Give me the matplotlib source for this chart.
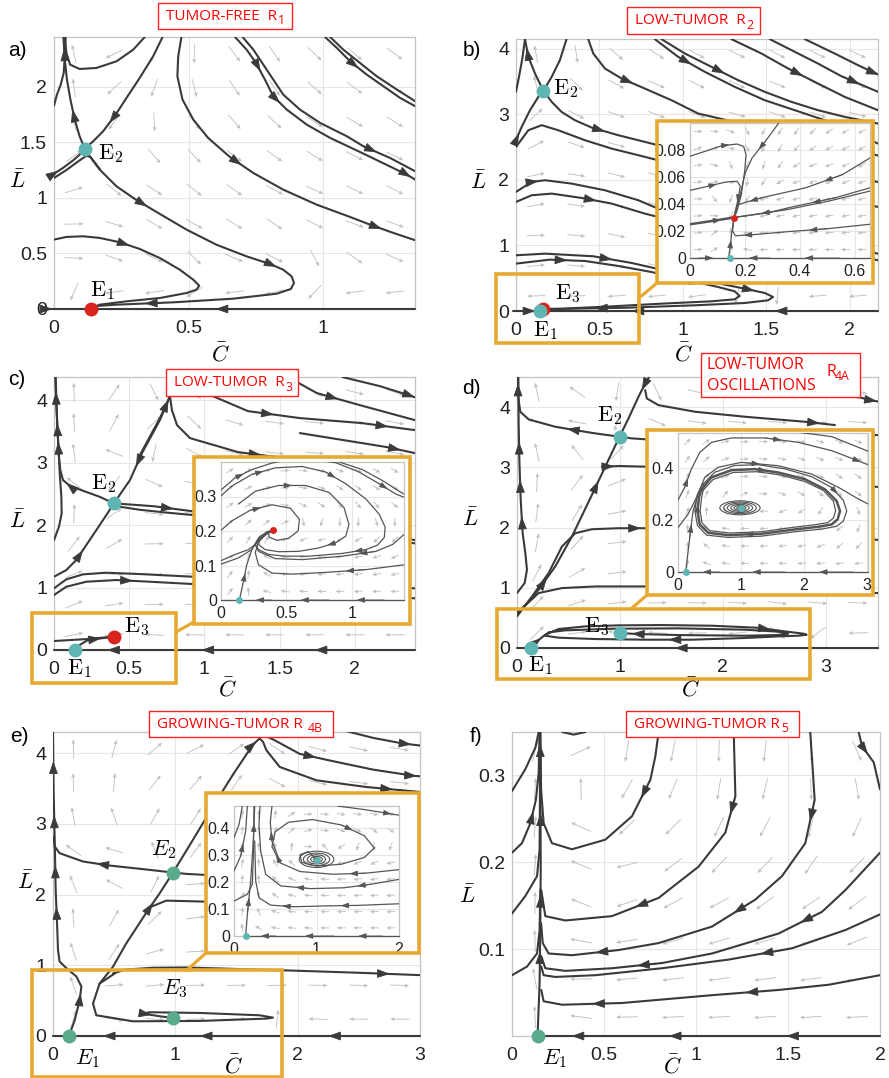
import numpy as np
import matplotlib.pyplot as plt
from matplotlib.patches import Rectangle, FancyArrowPatch, Ellipse
from matplotlib.lines import Line2D

plt.rcParams['font.family'] = ['Liberation Sans', 'DejaVu Sans']

# ---------------- panel a : tumor-free R1 ----------------
a_E1 = (0.139, 0.0)
a_E2 = (0.114, 1.444)
a_up = [(0.114, 1.444), (0.095, 1.556), (0.077, 1.706), (0.061, 1.886), (0.048, 2.066), (0.040, 2.246), (0.035, 2.45)]
a_down = [(0.114, 1.444), (0.133, 1.375), (0.170, 1.255), (0.232, 1.105), (0.300, 0.991), (0.393, 0.856), (0.492, 0.715),
          (0.603, 0.579), (0.715, 0.474), (0.802, 0.405), (0.851, 0.354), (0.882, 0.294), (0.891, 0.234), (0.879, 0.180),
          (0.827, 0.138), (0.665, 0.093), (0.442, 0.060), (0.232, 0.039), (0.157, 0.027), (0.139, 0.0)]
a_stab1 = [(0.403, 2.45), (0.368, 2.276), (0.318, 2.081), (0.269, 1.901), (0.229, 1.751), (0.182, 1.60), (0.145, 1.51), (0.114, 1.444)]
a_stab2 = [(0.0, 1.219), (0.033, 1.270), (0.071, 1.339), (0.102, 1.405), (0.114, 1.444)]
a_stab3 = [(0.0, 1.18), (0.045, 1.25), (0.09, 1.33), (0.12, 1.38), (0.135, 1.37), (0.17, 1.26)]
a_topleft = [(0.337, 2.45), (0.294, 2.336), (0.232, 2.231), (0.157, 2.171), (0.095, 2.162), (0.060, 2.201), (0.046, 2.306), (0.040, 2.45)]
a_left2 = [(0.0, 1.832), (0.011, 1.931), (0.025, 2.021), (0.036, 2.126), (0.041, 2.306), (0.043, 2.45)]
a_mid = [(0.473, 2.45), (0.461, 2.276), (0.458, 2.096), (0.477, 1.886), (0.517, 1.706), (0.572, 1.541), (0.653, 1.369),
         (0.740, 1.225), (0.851, 1.075), (0.975, 0.940), (1.099, 0.829), (1.173, 0.760), (1.260, 0.685), (1.341, 0.619)]
a_r1 = [(0.672, 2.45), (0.715, 2.336), (0.750, 2.216), (0.783, 2.066), (0.814, 1.916), (0.864, 1.796), (0.938, 1.661),
        (1.025, 1.541), (1.149, 1.399), (1.310, 1.210), (1.341, 1.165)]
a_r2 = [(0.700, 2.45), (0.740, 2.336), (0.777, 2.201), (0.814, 2.066), (0.851, 1.931), (0.913, 1.796), (0.988, 1.676),
        (1.087, 1.556), (1.149, 1.465), (1.248, 1.360), (1.341, 1.240)]
a_tr1 = [(1.006, 2.45), (1.050, 2.351), (1.099, 2.231), (1.161, 2.111), (1.223, 2.006), (1.285, 1.901), (1.341, 1.826)]
a_tr2 = [(1.025, 2.45), (1.074, 2.336), (1.136, 2.216), (1.198, 2.096), (1.273, 1.976), (1.341, 1.871)]
a_loop = [(0.0, 0.625), (0.046, 0.649), (0.108, 0.655), (0.170, 0.640), (0.244, 0.601), (0.318, 0.541), (0.393, 0.459),
          (0.467, 0.354), (0.517, 0.264), (0.539, 0.210), (0.529, 0.174), (0.492, 0.144), (0.393, 0.099), (0.269, 0.069),
          (0.170, 0.039), (0.139, 0.006)]
a_ax_r = [(1.34, 0.0), (1.06, 0.0), (0.139, 0.0)]
a_ax_l = [(-0.02, 0.0), (0.01, 0.0), (0.139, 0.0)]

# ---------------- panel b : low-tumor R2 ----------------
b_E1 = (0.144, 0.0)
b_E2 = (0.164, 3.359)
b_E3 = (0.16, 0.03)
b_up = [(0.164, 3.359), (0.114, 3.623), (0.074, 3.878), (0.054, 4.148)]
b_left_top = [(0.0, 3.344), (0.018, 3.573), (0.038, 3.852), (0.054, 4.148)]
b_stab_top = [(0.303, 4.148), (0.263, 3.827), (0.214, 3.573), (0.164, 3.359)]
b_stab_left = [(0.0, 2.606), (0.034, 2.809), (0.084, 3.064), (0.134, 3.267), (0.164, 3.359)]
b_down = [(0.164, 3.359), (0.214, 3.191), (0.273, 3.038), (0.353, 2.911), (0.453, 2.799), (0.613, 2.682), (0.812, 2.555),
          (0.972, 2.453), (2.12, 1.99), (2.19, 1.96)]
b_t1 = [(0.433, 4.148), (0.463, 3.929), (0.533, 3.700), (0.633, 3.547), (0.772, 3.394), (0.932, 3.216), (1.092, 3.013), (2.17, 2.372)]
b_t2 = [(0.832, 4.148), (0.972, 3.878), (1.132, 3.649), (1.311, 3.420), (1.491, 3.216), (1.671, 3.064), (1.850, 2.911), (2.17, 2.555)]
b_t3 = [(0.872, 4.148), (1.012, 3.929), (1.172, 3.725), (1.331, 3.522), (1.491, 3.344), (1.651, 3.191), (1.810, 3.064),
        (1.970, 2.962), (2.17, 2.860)]
b_t4 = [(1.291, 4.148), (1.471, 3.929), (1.631, 3.700), (1.810, 3.471), (1.970, 3.267), (2.17, 3.064)]
b_t5 = [(1.521, 4.148), (1.691, 3.929), (1.810, 3.776), (1.950, 3.583), (2.17, 3.344)]
b_t6 = [(1.731, 4.148), (1.910, 3.929), (2.050, 3.751), (2.15, 3.63), (2.20, 3.58)]
b_l1 = [(0.0, 2.504), (0.074, 2.758), (0.154, 2.835), (0.253, 2.758), (0.413, 2.606), (0.573, 2.478), (0.733, 2.377),
        (0.852, 2.300), (2.17, 1.588)]
b_l2 = [(0.0, 1.817), (0.094, 1.969), (0.174, 1.995), (0.333, 1.944), (0.533, 1.842), (0.733, 1.690), (0.852, 1.562), (2.17, 0.875)]
b_l3 = [(0.0, 1.664), (0.094, 1.766), (0.214, 1.791), (0.393, 1.725), (0.573, 1.639), (0.772, 1.486), (0.852, 1.435), (2.17, 0.774)]
b_l4 = [(0.0, 0.850), (0.174, 0.875), (0.463, 0.835), (0.693, 0.733), (0.932, 0.595), (1.172, 0.443), (1.371, 0.341),
        (1.491, 0.275), (1.541, 0.214), (1.511, 0.163), (1.371, 0.122), (1.072, 0.087), (0.673, 0.051), (0.273, 0.032), (0.16, 0.03)]
b_l5 = [(0.0, 0.723), (0.204, 0.784), (0.413, 0.763), (0.613, 0.687), (0.812, 0.595), (1.012, 0.478), (1.212, 0.366),
        (1.311, 0.300), (1.341, 0.229), (1.311, 0.178), (1.172, 0.148), (0.872, 0.112), (0.573, 0.071), (0.273, 0.035), (0.16, 0.03)]
b_ax_r = [(2.17, 0.0), (1.86, 0.0), (1.24, 0.0), (0.144, 0.0)]
b_ax_l = [(-0.02, 0.0), (0.09, 0.0), (0.144, 0.0)]

# inset b
bi_1 = [(0.0, 0.0754), (0.055, 0.0790), (0.116, 0.0832), (0.171, 0.0844), (0.195, 0.0827), (0.204, 0.0766),
        (0.199, 0.0643), (0.187, 0.0471), (0.171, 0.0348), (0.160, 0.030)]
bi_2 = [(0.0, 0.0501), (0.067, 0.0532), (0.128, 0.0562), (0.171, 0.0569), (0.183, 0.0533), (0.177, 0.0459),
        (0.167, 0.0361), (0.160, 0.030)]
bi_3 = [(0.323, 0.1), (0.274, 0.0864), (0.226, 0.0741), (0.201, 0.0631), (0.183, 0.0471), (0.165, 0.0324), (0.160, 0.030)]
bi_4 = [(0.140, 0.0), (0.146, 0.0079), (0.152, 0.0189), (0.160, 0.030)]
bi_5 = [(0.0, 0.0250), (0.067, 0.0270), (0.160, 0.030)]
bi_6 = [(0.655, 0.0741), (0.555, 0.0618), (0.421, 0.0520), (0.262, 0.0447), (0.171, 0.0393), (0.165, 0.0348), (0.160, 0.030)]
bi_7 = [(0.655, 0.0520), (0.530, 0.0447), (0.360, 0.0373), (0.287, 0.0336), (0.160, 0.030)]
bi_8 = [(0.655, 0.0496), (0.506, 0.0422), (0.360, 0.0361), (0.160, 0.030)]
bi_9 = [(0.655, 0.0250), (0.506, 0.0218), (0.360, 0.0196), (0.226, 0.0172), (0.165, 0.0165), (0.155, 0.020), (0.160, 0.030)]
bi_ax_r = [(0.655, 0.0), (0.545, 0.0), (0.29, 0.0), (0.14, 0.0)]
bi_ax_l = [(0.0, 0.0), (0.03, 0.0), (0.14, 0.0)]

# ---------------- panel c : low-tumor R3 ----------------
c_E1 = (0.137, 0.0)
c_E2 = (0.399, 2.347)
c_E3 = (0.399, 0.213)
c_v1 = [(0.0, 1.76), (0.033, 1.973), (0.051, 2.187), (0.049, 2.453), (0.038, 2.827), (0.027, 3.36), (0.016, 3.893), (0.009, 4.37)]
c_u1 = [(0.399, 2.347), (0.303, 2.453), (0.193, 2.549), (0.104, 2.629), (0.060, 2.72), (0.042, 2.88), (0.033, 3.093),
        (0.022, 3.573), (0.016, 4.0), (0.011, 4.37)]
c_s2 = [(0.784, 4.37), (0.771, 4.064), (0.704, 3.68), (0.585, 3.152), (0.505, 2.72), (0.399, 2.352)]
c_cusp = [(0.571, 3.12), (0.704, 3.712), (0.751, 3.952), (0.771, 4.064), (0.784, 3.84), (0.818, 3.6), (0.904, 3.392),
          (1.223, 3.168), (1.535, 3.072), (1.834, 3.04)]
c_t1 = [(1.920, 4.368), (2.166, 4.224), (2.37, 4.07), (2.43, 4.02)]
c_t2 = [(1.568, 4.352), (1.748, 4.112), (2.033, 3.92), (2.399, 3.68)]
c_t3 = [(1.056, 4.064), (1.289, 3.824), (1.635, 3.712), (2.047, 3.632), (2.399, 3.52)]
c_t5 = [(1.635, 3.472), (2.213, 3.248), (2.399, 3.152)]
c_u2 = [(0.399, 2.347), (0.5, 2.33), (0.669, 2.30), (0.923, 2.22), (1.411, 2.08), (2.4, 1.76)]
c_u2b = [(0.42, 2.30), (0.569, 2.245), (0.746, 2.20), (0.923, 2.16), (2.4, 1.707)]
c_s1 = [(0.0, 1.173), (0.082, 1.28), (0.148, 1.44), (0.237, 1.76), (0.326, 2.08), (0.399, 2.347)]
c_l1 = [(0.0, 0.987), (0.082, 1.131), (0.193, 1.211), (0.348, 1.237), (0.569, 1.216), (0.923, 1.173), (2.4, 0.987)]
c_l2 = [(0.0, 0.88), (0.082, 1.013), (0.215, 1.093), (0.414, 1.12), (0.636, 1.093), (0.923, 1.056), (2.4, 0.827)]
c_e1 = [(0.0, 0.144), (0.193, 0.171), (0.399, 0.213)]
c_e2 = [(0.137, 0.0), (0.170, 0.08), (0.226, 0.16), (0.399, 0.213)]
c_ax_r = [(2.4, 0.0), (2.075, 0.0), (1.389, 0.0), (0.569, 0.0), (0.137, 0.0)]
c_ax_l = [(0.0, 0.0), (0.137, 0.0)]

# inset c
ci_1 = [(0.141, 0.0), (0.172, 0.054), (0.197, 0.102), (0.236, 0.146), (0.287, 0.180), (0.351, 0.198), (0.397, 0.202)]
ci_2 = [(0.0, 0.202), (0.082, 0.229), (0.223, 0.260), (0.390, 0.276), (0.531, 0.266), (0.600, 0.234), (0.590, 0.2),
        (0.518, 0.179), (0.428, 0.173), (0.369, 0.182), (0.364, 0.195), (0.397, 0.202)]
ci_a = [(0.0, 0.302), (0.082, 0.33), (0.236, 0.364), (0.415, 0.383), (0.621, 0.387), (0.8, 0.371), (0.954, 0.337),
        (1.108, 0.293), (1.21, 0.249), (1.256, 0.211), (1.249, 0.181), (1.197, 0.159), (1.108, 0.146), (0.928, 0.135),
        (0.672, 0.127), (0.492, 0.127), (0.364, 0.132), (0.287, 0.146), (0.262, 0.161), (0.3, 0.180), (0.351, 0.195), (0.397, 0.202)]
ci_4 = [(0.697, 0.407), (0.877, 0.398), (1.056, 0.371), (1.21, 0.337), (1.338, 0.307), (1.4, 0.298)]
ci_5 = [(0.736, 0.407), (0.903, 0.4), (1.082, 0.378), (1.236, 0.346), (1.364, 0.315), (1.4, 0.307)]
ci_6 = [(0.0, 0.319), (0.108, 0.354), (0.236, 0.378), (0.39, 0.397), (0.492, 0.405)]
ci_7 = [(1.4, 0.19), (1.313, 0.161), (1.185, 0.141), (0.928, 0.127), (0.621, 0.117), (0.415, 0.120), (0.287, 0.141),
        (0.262, 0.161), (0.313, 0.185), (0.397, 0.202)]
ci_8 = [(0.133, 0.278), (0.262, 0.315), (0.441, 0.332), (0.646, 0.332), (0.826, 0.312), (0.941, 0.268), (0.979, 0.219),
        (0.954, 0.185), (0.877, 0.166), (0.749, 0.151), (0.595, 0.141), (0.441, 0.14), (0.338, 0.146), (0.287, 0.161),
        (0.3, 0.18), (0.351, 0.195), (0.397, 0.202)]
ci_9 = [(1.4, 0.102), (1.108, 0.088), (0.8, 0.08), (0.544, 0.075), (0.39, 0.078), (0.287, 0.102), (0.262, 0.137),
        (0.287, 0.169), (0.351, 0.192), (0.397, 0.202)]
ci_10 = [(0.0, 0.114), (0.108, 0.132), (0.21, 0.146), (0.262, 0.161), (0.326, 0.185), (0.397, 0.202)]
ci_11 = [(0.0, 0.104), (0.133, 0.122), (0.236, 0.146), (0.3, 0.185), (0.397, 0.202)]
ci_ax_r = [(1.4, 0.0), (1.249, 0.0), (0.826, 0.0), (0.39, 0.0), (0.141, 0.0)]
ci_ax_l = [(0.0, 0.0), (0.141, 0.0)]

# ---------------- panel d : low-tumor oscillations R4A ----------------
d_E1 = (0.139, 0.0)
d_E2 = (0.997, 3.508)
d_E3 = (0.997, 0.249)
d_dlow = [(0.0, 0.569), (0.113, 0.773), (0.21, 0.967), (0.372, 1.354), (0.534, 1.851), (0.728, 2.541), (0.858, 3.011), (0.997, 3.508)]
d_dhigh = [(1.285, 4.5), (1.246, 4.392), (1.181, 4.171), (1.084, 3.812), (0.997, 3.508)]
d_uleft = [(0.997, 3.508), (0.761, 3.564), (0.599, 3.608), (0.372, 3.674), (0.113, 3.796), (0.032, 3.923), (0.016, 4.116),
           (0.01, 4.282), (0.01, 4.5)]
d_uright = [(0.997, 3.508), (1.117, 3.481), (1.262, 3.464), (3.51, 3.536)]
d_r1 = [(0.825, 3.011), (0.906, 3.016), (0.987, 3.022), (1.262, 3.011), (3.51, 2.674)]
d_top1 = [(1.246, 4.282), (1.262, 4.144), (1.375, 4.033), (1.731, 3.923), (2.217, 3.84), (2.799, 3.757), (3.091, 3.702)]
d_top2 = [(2.217, 4.42), (2.54, 4.337), (2.864, 4.254), (3.333, 4.16), (3.47, 4.105), (3.53, 4.088)]
d_v2 = [(0.0, 0.912), (0.074, 1.077), (0.097, 1.298), (0.081, 1.575), (0.055, 1.906), (0.036, 2.459), (0.023, 3.122),
        (0.016, 3.729), (0.013, 4.5)]
d_mid = [(0.0, 0.525), (0.146, 0.856), (0.307, 1.243), (0.437, 1.685), (0.566, 1.906), (0.728, 1.972), (0.987, 1.989),
         (1.15, 1.989), (1.262, 1.989), (3.51, 1.796)]
d_low = [(0.0, 0.58), (0.21, 0.912), (0.437, 0.995), (0.761, 1.022), (1.262, 1.022), (3.51, 0.912)]
d_loop = [(0.139, 0.0), (0.194, 0.11), (0.275, 0.221), (0.405, 0.315), (0.663, 0.359), (0.987, 0.376), (1.408, 0.381),
          (1.893, 0.37), (2.33, 0.337), (2.605, 0.276), (2.783, 0.238), (2.816, 0.221), (2.735, 0.204), (2.54, 0.193),
          (2.217, 0.166), (1.699, 0.138), (1.246, 0.138), (0.761, 0.149), (0.405, 0.171), (0.275, 0.204), (0.307, 0.26),
          (0.469, 0.293), (0.922, 0.32), (1.57, 0.326), (2.217, 0.304), (2.54, 0.271), (2.638, 0.238), (2.54, 0.215),
          (2.217, 0.204), (1.57, 0.215), (1.181, 0.232), (1.052, 0.243), (0.997, 0.249)]
d_ax_r = [(3.51, 0.0), (2.929, 0.0), (0.139, 0.0)]
d_ax_l = [(0.0, 0.0), (0.139, 0.0)]

# inset d
di_1 = [(0.122, 0.0), (0.186, 0.132), (0.239, 0.235), (0.319, 0.3), (0.451, 0.338)]
di_cycle = [(0.372, 0.318), (0.531, 0.364), (0.85, 0.392), (1.222, 0.396), (1.593, 0.383), (2.018, 0.357), (2.337, 0.318),
            (2.522, 0.273), (2.575, 0.235), (2.538, 0.203), (2.443, 0.183), (2.23, 0.174), (1.859, 0.164), (1.328, 0.147),
            (0.797, 0.142), (0.478, 0.151), (0.345, 0.183), (0.308, 0.235), (0.334, 0.287), (0.372, 0.318)]
di_cyc_in = [(0.398, 0.314), (0.557, 0.356), (0.876, 0.383), (1.248, 0.386), (1.62, 0.374), (2.018, 0.348), (2.31, 0.314),
             (2.469, 0.273), (2.506, 0.235), (2.469, 0.207), (2.379, 0.190), (2.177, 0.182), (1.832, 0.172), (1.328, 0.155),
             (0.823, 0.15), (0.504, 0.159), (0.382, 0.189), (0.351, 0.235), (0.372, 0.28), (0.398, 0.314)]
di_cyc_out = [(0.398, 0.338), (0.584, 0.384), (0.903, 0.41), (1.275, 0.413), (1.699, 0.397), (2.124, 0.367), (2.443, 0.325),
              (2.628, 0.276), (2.682, 0.235), (2.628, 0.196), (2.522, 0.176), (2.283, 0.165), (1.859, 0.155), (1.328, 0.138),
              (0.797, 0.133), (0.451, 0.142), (0.308, 0.18), (0.268, 0.235), (0.308, 0.298), (0.398, 0.338)]
di_2 = [(0.0, 0.277), (0.106, 0.326), (0.212, 0.396), (0.345, 0.46), (0.531, 0.499), (0.85, 0.516), (1.381, 0.516),
        (1.912, 0.499), (2.443, 0.467), (2.788, 0.435), (3.02, 0.413)]
di_3 = [(1.912, 0.538), (2.443, 0.521), (3.02, 0.465)]
di_4 = [(0.0, 0.171), (0.159, 0.222), (0.292, 0.286), (0.425, 0.364), (0.637, 0.403), (1.009, 0.422), (1.593, 0.409),
        (2.124, 0.377), (2.549, 0.326), (2.868, 0.281), (3.02, 0.262)]
di_spiral_w = [0.64, 0.52, 0.40, 0.29, 0.19, 0.10]
di_spiral_h = [0.054, 0.045, 0.036, 0.027, 0.018, 0.010]
di_ax_r = [(3.02, 0.0), (2.788, 0.0), (1.699, 0.0), (0.664, 0.0), (0.122, 0.0)]
di_ax_l = [(0.0, 0.0), (0.122, 0.0)]

# ---------------- panel e : growing-tumor R4B ----------------
e_E1 = (0.131, 0.0)
e_E2 = (0.981, 2.312)
e_E3 = (0.981, 0.255)
e_vert = [(0.131, 0.0), (0.177, 0.222), (0.218, 0.506), (0.232, 0.7), (0.191, 0.842), (0.109, 0.96), (0.054, 1.054),
          (0.041, 1.215), (0.033, 1.593), (0.022, 2.057), (0.014, 2.766), (0.005, 3.475), (0.0, 4.3)]
e_E2left = [(0.981, 2.312), (0.79, 2.35), (0.463, 2.411), (0.245, 2.468), (0.054, 2.586), (0.014, 2.681), (0.005, 2.823)]
e_loop = [(0.504, 0.884), (0.381, 0.742), (0.327, 0.459), (0.354, 0.293), (0.654, 0.208), (1.199, 0.213), (1.744, 0.246),
          (1.798, 0.26), (1.689, 0.293), (1.199, 0.326), (0.79, 0.336), (0.736, 0.317), (0.872, 0.279), (0.981, 0.255)]
e_lowr = [(0.49, 0.884), (0.599, 0.941), (0.817, 0.965), (1.09, 0.969), (1.471, 0.95), (2.016, 0.922), (2.507, 0.894), (3.0, 0.861)]
e_dlow = [(0.381, 0.742), (0.49, 0.979), (0.599, 1.31), (0.763, 1.745), (0.872, 2.019), (0.981, 2.312)]
e_dhigh = [(0.981, 2.312), (1.144, 2.775), (1.308, 3.248), (1.471, 3.697)]
e_cusp = [(1.471, 3.697), (1.635, 4.123), (1.689, 4.208), (1.717, 4.161), (1.744, 4.043), (1.853, 3.806), (2.153, 3.617),
          (2.561, 3.522), (3.0, 3.452)]
e_tr1 = [(1.717, 4.265), (1.826, 4.17), (2.016, 3.991), (2.289, 3.887), (2.616, 3.768), (2.95, 3.68), (3.0, 3.674)]
e_tr2 = [(2.398, 4.312), (2.616, 4.217), (2.861, 4.137), (3.0, 4.109)]
e_E2right = [(0.981, 2.312), (1.09, 2.293), (1.24, 2.279), (3.0, 2.255)]
e_mid = [(0.804, 1.83), (0.926, 1.915), (1.24, 1.901), (3.0, 1.85)]
e_ax_r = [(3.0, 0.0), (2.779, 0.0), (1.717, 0.0), (0.681, 0.0), (0.131, 0.0)]
e_ax_l = [(0.0, 0.0), (0.131, 0.0)]

# inset e
ei_1 = [(0.141, 0.0), (0.162, 0.08), (0.202, 0.203), (0.234, 0.351), (0.251, 0.48)]
ei_2 = [(0.0, 0.129), (0.162, 0.154), (0.222, 0.191), (0.234, 0.289), (0.242, 0.48)]
ei_3 = [(2.0, 0.119), (1.495, 0.113), (1.091, 0.111), (0.727, 0.108), (0.444, 0.114), (0.303, 0.141), (0.263, 0.203), (0.251, 0.351)]
ei_4 = [(2.0, 0.209), (1.657, 0.191), (1.333, 0.178), (0.929, 0.175), (0.566, 0.185), (0.384, 0.228), (0.323, 0.314),
        (0.303, 0.412), (0.315, 0.48)]
ei_5a = [(0.0, 0.363), (0.061, 0.412), (0.101, 0.48)]
ei_5b = [(0.0, 0.24), (0.081, 0.295), (0.141, 0.387), (0.162, 0.48)]
ei_6 = [(2.0, 0.245), (1.6, 0.232), (1.2, 0.228), (0.8, 0.238), (0.56, 0.27), (0.46, 0.33), (0.5, 0.385), (0.66, 0.42),
        (0.95, 0.43), (1.3, 0.41), (1.58, 0.37), (1.70, 0.325), (1.58, 0.29), (1.3, 0.265), (1.0, 0.258), (0.82, 0.272),
        (0.80, 0.30), (0.9, 0.312), (1.0, 0.283)]
ei_7 = [(0.545, 0.283), (0.46, 0.35), (0.44, 0.42), (0.46, 0.48)]
ei_8 = [(1.253, 0.48), (1.576, 0.467), (1.818, 0.455), (2.0, 0.446)]
ei_spiral_w = [0.42, 0.32, 0.22, 0.14, 0.07]
ei_spiral_h = [0.06, 0.046, 0.034, 0.022, 0.012]
ei_ax_r = [(2.0, 0.0), (1.798, 0.0), (1.212, 0.0), (0.505, 0.0), (0.141, 0.0)]

# ---------------- panel f : growing-tumor R5 ----------------
f_E1 = (0.139, 0.0)
f_vert = [(0.139, 0.0), (0.145, 0.034), (0.15, 0.061), (0.154, 0.134), (0.156, 0.191), (0.154, 0.322), (0.15, 0.35)]
f_l1 = [(0.0, 0.282), (0.072, 0.307), (0.127, 0.332), (0.145, 0.35)]
f_l2 = [(0.0, 0.211), (0.054, 0.222), (0.1, 0.245), (0.13, 0.272), (0.145, 0.303), (0.15, 0.35)]
f_l3 = [(0.0, 0.141), (0.072, 0.161), (0.136, 0.184), (0.15, 0.215), (0.154, 0.35)]
f_l4 = [(0.0, 0.07), (0.082, 0.08), (0.136, 0.095), (0.15, 0.122), (0.154, 0.168)]
f_r1 = [(0.797, 0.35), (0.779, 0.322), (0.752, 0.295), (0.652, 0.253), (0.507, 0.226), (0.326, 0.215), (0.217, 0.222),
        (0.172, 0.245), (0.158, 0.284), (0.154, 0.35)]
f_r2 = [(1.205, 0.35), (1.214, 0.276), (1.159, 0.234), (1.014, 0.195), (0.797, 0.159), (0.543, 0.138), (0.29, 0.133),
        (0.181, 0.138), (0.159, 0.168)]
f_r3 = [(1.621, 0.35), (1.645, 0.272), (1.594, 0.222), (1.467, 0.184), (1.322, 0.157), (1.087, 0.126), (0.797, 0.107),
        (0.58, 0.099), (0.326, 0.093), (0.199, 0.095), (0.167, 0.107), (0.158, 0.13)]
f_r4 = [(1.884, 0.35), (1.902, 0.334), (1.966, 0.315), (2.0, 0.284)]
f_r5 = [(2.0, 0.211), (1.812, 0.168), (1.685, 0.143), (1.449, 0.118), (1.087, 0.095), (0.815, 0.084), (0.543, 0.078),
        (0.29, 0.075), (0.181, 0.078), (0.159, 0.092)]
f_r6 = [(2.0, 0.14), (1.812, 0.122), (1.522, 0.101), (1.178, 0.088), (0.815, 0.078), (0.453, 0.07), (0.236, 0.068),
        (0.172, 0.07), (0.159, 0.08)]
f_r7 = [(2.0, 0.07), (1.721, 0.059), (1.449, 0.053), (1.087, 0.047), (0.598, 0.038), (0.272, 0.036), (0.172, 0.04), (0.159, 0.053)]
f_arc = [(0.272, 0.35), (0.335, 0.347), (0.399, 0.35)]
f_ax_r = [(2.0, 0.0), (1.784, 0.0), (1.196, 0.0), (0.507, 0.0), (0.139, 0.0)]

# ---------------- drawing ----------------
TEAL = '#5fb5b1'
GREEN = '#5aab8c'
RED = '#d8241c'
ORANGE = '#e8a933'
LINE = '#3a3a3a'
ILINE = '#555555'

W, H = 889, 1078
fig = plt.figure(figsize=(W / 100, H / 100), dpi=100)


def add_ax(l, t, r, b, z=0):
    ax = fig.add_axes([l / W, 1 - b / H, (r - l) / W, (b - t) / H])
    ax.set_zorder(z)
    return ax


def style(ax, xlim, ylim, xt, yt, fs=14, xpad=8, ypad=5):
    ax.set_xlim(*xlim)
    ax.set_ylim(*ylim)
    ax.set_xticks(xt, ['%g' % v for v in xt])
    ax.set_yticks(yt, ['%g' % v for v in yt])
    ax.tick_params(length=0, labelsize=fs, labelcolor='#222222')
    ax.tick_params(axis='x', pad=xpad)
    ax.tick_params(axis='y', pad=ypad)
    ax.grid(True, color='#e6e6e6', lw=0.8)
    ax.set_axisbelow(True)
    for s in ax.spines.values():
        s.set_color('#c4c4c4')
        s.set_linewidth(0.9)


def field(ax, trajs, nx, ny, ln):
    A, B = [], []
    for t in trajs:
        p = ax.transData.transform(np.array(t, float))
        A.append(p[:-1])
        B.append(p[1:])
    A = np.vstack(A)
    D = np.vstack(B) - A
    n = np.hypot(D[:, 0], D[:, 1])
    k = n > 1e-6
    A, D, n = A[k], D[k] / n[k, None], n[k]
    x0, x1 = ax.get_xlim()
    y0, y1 = ax.get_ylim()
    gx = x0 + (np.arange(nx) + 0.5) / nx * (x1 - x0)
    gy = y0 + (np.arange(ny) + 0.5) / ny * (y1 - y0)
    X, Y = np.meshgrid(gx, gy)
    P = ax.transData.transform(np.c_[X.ravel(), Y.ravel()])
    AP = P[:, None, :] - A[None, :, :]
    s = np.clip((AP * D[None]).sum(-1), 0, n[None])
    C = A[None] + s[..., None] * D[None]
    d = np.hypot(P[:, None, 0] - C[..., 0], P[:, None, 1] - C[..., 1])
    w = 1.0 / (d + 4) ** 3
    u = (w * D[None, :, 0]).sum(1)
    v = (w * D[None, :, 1]).sum(1)
    m = np.hypot(u, v) + 1e-12
    ax.quiver(X.ravel(), Y.ravel(), ln * u / m, ln * v / m, angles='uv', scale_units='dots', scale=1,
              units='dots', width=0.9, headwidth=4.5, headlength=5, headaxislength=4.5,
              pivot='mid', color='#c2c2c2', zorder=1)


def draw(ax, items, lw, col, ms):
    for it in items:
        p = np.array(it[0], float)
        k = it[2] if len(it) > 2 else 1.0
        on_axis = np.all(p[:, 1] == 0)
        ax.plot(p[:, 0], p[:, 1], color=col, lw=lw * k, zorder=3, clip_on=not on_axis,
                solid_joinstyle='round', solid_capstyle='round')
        for i in it[1]:
            a = p[i]
            b = p[i] + 0.5 * (p[i + 1] - p[i])
            ax.add_patch(FancyArrowPatch(a, b, arrowstyle='-|>,head_length=0.8,head_width=0.28',
                                         mutation_scale=ms, color=col, lw=0.6, shrinkA=0, shrinkB=0,
                                         zorder=4, clip_on=False))


def eq(ax, pt, col, ms):
    ax.plot([pt[0]], [pt[1]], 'o', ms=ms, color=col, mec='none', zorder=6, clip_on=False)


def elabel(ax, x, y, s, italic=False, fs=16):
    txt = (r'$E_{%s}$' if italic else r'$\mathrm{E}_{%s}$') % s
    ax.text(x, y, txt, fontsize=fs, math_fontfamily='cm', ha='left', va='center', zorder=7, clip_on=False)


def ftext(x, y, s, **kw):
    return fig.text(x / W, 1 - y / H, s, **kw)


def frect(l, t, r, b, z, **kw):
    fig.add_artist(Rectangle((l / W, 1 - b / H), (r - l) / W, (b - t) / H, transform=fig.transFigure, zorder=z, **kw))


def fline(x1, y1, x2, y2):
    fig.add_artist(Line2D([x1 / W, x2 / W], [1 - y1 / H, 1 - y2 / H], transform=fig.transFigure,
                          color=ORANGE, lw=2.3, zorder=3))


def inset_frame(box, small, link):
    frect(*box, 1, facecolor='white', edgecolor='none')
    frect(*box, 3, facecolor='none', edgecolor=ORANGE, lw=2.6)
    frect(*small, 3, facecolor='none', edgecolor=ORANGE, lw=2.6)
    fline(*link)


renderer = fig.canvas.get_renderer()


def title_box(l, t, r, b, main, sub, fs=11):
    frect(l, t, r, b, 4, facecolor='white', edgecolor='#ff2020', lw=1.0)
    cy = (t + b) / 2
    tx = ftext(l + 8, cy, main, color='#ff0000', fontsize=fs, family='Open Sans', ha='left', va='center', zorder=5)
    bb = tx.get_window_extent(renderer)
    fig.text((bb.x1 + 1) / W, 1 - (cy + 5) / H, sub, color='#ff0000', fontsize=fs * 0.8, family='Open Sans',
             ha='left', va='center', zorder=5)


# ---- panel a
ax = add_ax(54, 37, 415, 309)
style(ax, (0, 1.34), (0, 2.45), [0, 0.5, 1], [0, 0.5, 1, 1.5, 2])
items = [(a_up, [2, 5]), (a_down, [4, 9, 16]), (a_stab1, [4]), (a_stab2, [0]), (a_stab3, []), (a_topleft, []),
         (a_left2, []), (a_mid, [6, 11]), (a_r1, [2, 4, 9]), (a_r2, [8]), (a_tr1, [2]), (a_tr2, []),
         (a_loop, [4]), (a_ax_r, [1]), (a_ax_l, [0])]
field(ax, [i[0] for i in items], 9, 8, 19)
draw(ax, items, 1.5, LINE, 10)
eq(ax, a_E1, RED, 10)
eq(ax, a_E2, TEAL, 10)
elabel(ax, 0.133, 0.17, '1')
elabel(ax, 0.165, 1.40, '2')

# ---- panel b
ax = add_ax(516, 39, 878, 311)
style(ax, (0, 2.17), (0, 4.15), [0, 0.5, 1, 1.5, 2], [0, 1, 2, 3, 4])
items = [(b_up, [2]), (b_left_top, []), (b_stab_top, []), (b_stab_left, [0]), (b_down, [4, 8]), (b_t1, [3]),
         (b_t2, [1]), (b_t3, [2]), (b_t4, [2]), (b_t5, [3]), (b_t6, [3]), (b_l1, []), (b_l2, [1]), (b_l3, [3]),
         (b_l4, [2, 6, 12]), (b_l5, [1, 5]), (b_ax_r, [1, 2]), (b_ax_l, [1])]
field(ax, [i[0] for i in items], 9, 9, 18)
draw(ax, items, 1.5, LINE, 10)
eq(ax, b_E3, RED, 10)
eq(ax, b_E1, TEAL, 10)
eq(ax, b_E2, TEAL, 10)
elabel(ax, 0.224, 3.39, '2')
elabel(ax, 0.234, 0.26, '3')
elabel(ax, 0.10, -0.30, '1')

inset_frame((657, 121, 873, 283), (496, 274, 639, 343), (639, 298, 657, 283))
ax = add_ax(690, 123, 870, 258, z=2)
style(ax, (0, 0.655), (0, 0.1), [0, 0.2, 0.4, 0.6], [0, 0.02, 0.04, 0.06, 0.08], fs=11.5, xpad=4, ypad=3)
items = [(bi_1, [2]), (bi_2, [1, 5]), (bi_3, [1]), (bi_4, [1]), (bi_5, [1], 2.0), (bi_6, [1, 3]), (bi_7, [1]),
         (bi_8, [2]), (bi_9, [1, 3]), (bi_ax_r, [1, 2]), (bi_ax_l, [1])]
field(ax, [i[0] for i in items], 11, 8, 9)
draw(ax, items, 0.9, ILINE, 6)
eq(ax, b_E1, TEAL, 5)
eq(ax, b_E3, RED, 5)

# ---- panel c
ax = add_ax(54, 377, 415, 650)
style(ax, (0, 2.4), (0, 4.37), [0, 0.5, 1, 1.5, 2], [0, 1, 2, 3, 4])
items = [(c_v1, [5, 6]), (c_u1, [3, 6]), (c_s2, [3]), (c_cusp, [2, 7]), (c_t1, [2]), (c_t2, [1]),
         (c_t3, [1, 3]), (c_t5, [1]), (c_u2, [2]), (c_u2b, []), (c_s1, [2]), (c_l1, []), (c_l2, [3]),
         (c_e1, []), (c_e2, [2]), (c_ax_r, [1, 2, 3]), (c_ax_l, [])]
field(ax, [i[0] for i in items], 9, 9, 19)
draw(ax, items, 1.5, LINE, 10)
eq(ax, c_E1, TEAL, 10)
eq(ax, c_E2, TEAL, 10)
eq(ax, c_E3, RED, 10)
elabel(ax, 0.248, 2.667, '2')
elabel(ax, 0.463, 0.373, '3')
elabel(ax, 0.086, -0.29, '1')

inset_frame((194, 457, 410, 624), (32, 613, 176, 683), (176, 632, 194, 622))
ax = add_ax(221, 462, 404, 600, z=2)
style(ax, (0, 1.4), (0, 0.4), [0, 0.5, 1], [0, 0.1, 0.2, 0.3], fs=11.5, xpad=4, ypad=3)
items = [(ci_1, [1]), (ci_2, [2]), (ci_a, [2, 5, 12]), (ci_4, [3]), (ci_5, []), (ci_6, [1]), (ci_7, [2]),
         (ci_8, [2, 8]), (ci_9, [1]), (ci_10, []), (ci_11, []), (ci_ax_r, [1, 2, 3]), (ci_ax_l, [])]
field(ax, [i[0] for i in items], 10, 8, 9)
draw(ax, items, 0.9, ILINE, 6)
eq(ax, (0.141, 0.0), TEAL, 5)
eq(ax, (0.397, 0.202), RED, 5)

# ---- panel d
ax = add_ax(517, 377, 878, 648)
style(ax, (0, 3.51), (0, 4.5), [0, 1, 2, 3], [0, 1, 2, 3, 4])
items = [(d_dlow, [2, 5]), (d_dhigh, [1]), (d_uleft, [2, 7]), (d_uright, []), (d_r1, [1]), (d_top1, [5]),
         (d_top2, [4]), (d_v2, [4, 5, 6]), (d_mid, [7]), (d_low, []), (d_loop, [1, 8, 15, 30]),
         (d_ax_r, [1]), (d_ax_l, [])]
field(ax, [i[0] for i in items], 9, 9, 19)
draw(ax, items, 1.5, LINE, 10)
eq(ax, d_E1, TEAL, 10)
eq(ax, d_E2, TEAL, 10)
eq(ax, d_E3, TEAL, 10)
elabel(ax, 0.777, 3.867, '2')
elabel(ax, 0.647, 0.348, '3')
elabel(ax, 0.11, -0.30, '1')

inset_frame((647, 430, 873, 595), (497, 609, 810, 679), (632, 608, 647, 595))
ax = add_ax(678, 433, 868, 572, z=2)
style(ax, (0, 3.02), (0, 0.535), [0, 1, 2, 3], [0, 0.2, 0.4], fs=11.5, xpad=4, ypad=3)
items = [(di_1, [1]), (di_cycle, [3, 13, 17], 2.0), (di_cyc_in, []), (di_cyc_out, [6]), (di_2, [1, 6, 9]),
         (di_3, []), (di_4, [5]), (di_ax_r, [1, 2, 3]), (di_ax_l, [])]
field(ax, [i[0] for i in items], 10, 8, 9)
draw(ax, items, 0.9, ILINE, 6)
for w, h in zip(di_spiral_w, di_spiral_h):
    ax.add_patch(Ellipse((0.985, 0.247), w, h, fill=False, ec=ILINE, lw=0.8, zorder=3))
eq(ax, (0.122, 0.0), TEAL, 5)
eq(ax, (1.0, 0.248), TEAL, 5)

# ---- panel e
ax = add_ax(53, 732, 420, 1036)
style(ax, (0, 3.0), (0, 4.3), [0, 1, 2, 3], [0, 1, 2, 3, 4])
items = [(e_vert, [2, 8, 9, 10, 11]), (e_E2left, [2]), (e_loop, [11]), (e_lowr, [6]), (e_dlow, [3]),
         (e_dhigh, []), (e_cusp, [1, 7]), (e_tr1, [2, 5]), (e_tr2, [2]), (e_E2right, []), (e_mid, []),
         (e_ax_r, [1, 2, 3]), (e_ax_l, [])]
field(ax, [i[0] for i in items], 9, 9, 19)
draw(ax, items, 1.5, LINE, 10)
eq(ax, e_E1, GREEN, 10)
eq(ax, e_E2, GREEN, 10)
eq(ax, e_E3, GREEN, 10)
elabel(ax, 0.804, 2.634, '2', italic=True)
elabel(ax, 0.894, 0.671, '3', italic=True)
elabel(ax, 0.177, -0.32, '1', italic=True)

inset_frame((206, 793, 419, 953), (32, 970, 282, 1077), (187, 970, 206, 953))
ax = add_ax(234, 806, 399, 936, z=2)
style(ax, (0, 2.0), (0, 0.48), [0, 1, 2], [0, 0.1, 0.2, 0.3, 0.4], fs=11.5, xpad=4, ypad=3)
items = [(ei_1, [1, 3]), (ei_2, []), (ei_3, [1, 3]), (ei_4, [1, 3]), (ei_5a, []), (ei_5b, [1]),
         (ei_6, [1, 4, 9]), (ei_7, [1]), (ei_8, [2]), (ei_ax_r, [1, 2, 3])]
field(ax, [i[0] for i in items], 10, 8, 9)
draw(ax, items, 0.9, ILINE, 6)
for w, h in zip(ei_spiral_w, ei_spiral_h):
    ax.add_patch(Ellipse((1.0, 0.283), w, h, fill=False, ec=ILINE, lw=0.8, zorder=3))
eq(ax, (0.141, 0.0), TEAL, 5)
eq(ax, (1.0, 0.279), TEAL, 5)

# ---- panel f
ax = add_ax(512, 732, 880, 1036)
style(ax, (0, 2.0), (0, 0.35), [0, 0.5, 1, 1.5, 2], [0.1, 0.2, 0.3])
items = [(f_vert, [2, 3, 4, 5]), (f_l1, []), (f_l2, [2]), (f_l3, []), (f_l4, []), (f_r1, [2]), (f_r2, [1, 4]),
         (f_r3, [1, 4, 7]), (f_r4, [1]), (f_r5, [2, 5]), (f_r6, [2]), (f_r7, [2, 4]), (f_arc, []),
         (f_ax_r, [1, 2, 3])]
field(ax, [i[0] for i in items], 8, 8, 22)
draw(ax, items, 1.5, LINE, 10)
eq(ax, f_E1, GREEN, 10)
elabel(ax, 0.163, -0.026, '1', italic=True)

# ---- figure texts
for x, y, s in [(8, 50, 'a)'), (463, 50, 'b)'), (8, 380, 'c)'), (462, 388, 'd)'), (10, 737, 'e)'), (470, 737, 'f)')]:
    ftext(x, y, s, fontsize=15, ha='left', va='center')
for x, y in [(17, 182), (478, 183), (17, 522), (470, 520), (25, 883), (467, 897)]:
    ftext(x, y, r'$\bar{L}$', fontsize=16, math_fontfamily='cm', ha='center', va='center')
for x, y in [(220, 355), (683, 355), (227, 690), (690, 690), (233, 1067), (672, 1067)]:
    ftext(x, y, r'$\bar{C}$', fontsize=16, math_fontfamily='cm', ha='center', va='center')

title_box(158, 3, 292, 29, 'TUMOR-FREE  R', '1')
title_box(627, 7, 760, 34, 'LOW-TUMOR  R', '2')
title_box(166, 369, 298, 396, 'LOW-TUMOR  R', '3')
title_box(149, 711, 333, 737, 'GROWING-TUMOR R ', '4B')
title_box(626, 711, 799, 737, 'GROWING-TUMOR R', '5')
frect(701, 353, 860, 397, 4, facecolor='white', edgecolor='#ff2020', lw=1.0)
ftext(707, 365, 'LOW-TUMOR', color='#ff0000', fontsize=11.5, family='Open Sans', ha='left', va='center', zorder=5)
ftext(707, 386, 'OSCILLATIONS', color='#ff0000', fontsize=11.5, family='Open Sans', ha='left', va='center', zorder=5)
ftext(826, 372, 'R', color='#ff0000', fontsize=11.5, family='Open Sans', ha='left', va='center', zorder=5)
ftext(835, 377, '4A', color='#ff0000', fontsize=8.8, family='Open Sans', ha='left', va='center', zorder=5)

fig.savefig('out.png', dpi=100)
